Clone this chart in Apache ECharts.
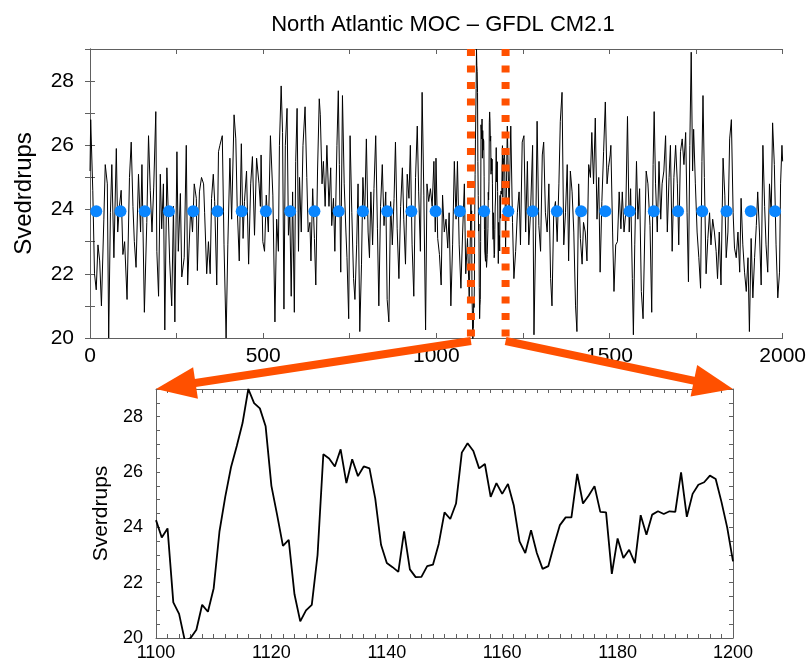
<!DOCTYPE html>
<html>
<head>
<meta charset="utf-8">
<title>North Atlantic MOC</title>
<script src="https://cdn.jsdelivr.net/npm/echarts@6/dist/echarts.min.js"></script>
<style>
  html, body { margin: 0; padding: 0; background: #fff; }
  #chart { width: 809px; height: 662px; }
</style>
</head>
<body>
<div id="chart"></div>
<script>
// 上图：全时段（读图估计，约每5年一个点）
const topYears = [0, 2, 8, 13, 18, 23, 28, 33, 40, 44, 50, 54, 59, 63, 69, 76, 80, 85, 90, 95,
  100, 107, 114, 119, 124, 128, 133, 140, 146, 150, 157, 164, 169, 174, 179, 184, 190, 193, 198,
  203, 207, 212, 216, 222, 226, 230, 236, 241, 245, 251, 255, 261, 265, 272, 278, 282, 286, 291, 296,
  301, 307, 310, 316, 322, 328, 331, 337, 342, 347, 351, 356, 360, 366, 371, 375, 382, 387, 393, 398,
  404, 409, 416, 421, 425, 431, 437, 442, 446, 452, 458, 464, 469, 475, 481, 488, 492, 494, 499,
  504, 509, 515, 521, 528, 534, 539, 544, 547, 552, 556, 560, 564, 569, 573, 577, 581, 585, 590, 594, 598,
  602, 605, 610, 615, 621, 626, 630, 635, 638, 643, 648, 652, 657, 662, 665, 670, 674, 679, 684, 690, 695, 698,
  703, 707, 713, 717, 720, 724, 729, 734, 739, 742, 747, 751, 756, 761, 765, 770, 774, 779, 784, 788, 793, 798,
  803, 807, 811, 816, 820, 825, 830, 834, 839, 844, 849, 854, 858, 863, 868, 873, 878, 882, 887, 892, 897,
  902, 906, 911, 916, 921, 925, 930, 935, 940, 945, 949, 954, 959, 964, 969, 973, 978, 983, 988, 993, 997, 999,
  1004, 1009, 1014, 1018, 1023, 1028, 1033, 1037, 1042, 1047, 1052, 1057, 1061, 1066, 1071, 1076, 1081, 1085, 1090, 1095,
  1205, 1210, 1215, 1220, 1224, 1229, 1234, 1239, 1243, 1248, 1253, 1258, 1263, 1267, 1272, 1278, 1282, 1287, 1291, 1296,
  1301, 1306, 1310, 1315, 1320, 1325, 1330, 1334, 1339, 1344, 1349, 1354, 1358, 1363, 1368, 1373, 1378, 1382, 1387, 1392, 1397,
  1402, 1406, 1411, 1416, 1421, 1425, 1430, 1435, 1440, 1445, 1449, 1454, 1459, 1464, 1469, 1473, 1478, 1483, 1488, 1493, 1497,
  1502, 1504, 1509, 1513, 1518, 1523, 1528, 1533, 1537, 1542, 1547, 1552, 1557, 1561, 1566, 1569, 1573, 1578, 1582, 1587, 1592, 1597,
  1602, 1606, 1611, 1617, 1622, 1626, 1629, 1633, 1638, 1643, 1648, 1652, 1657, 1662, 1667, 1672, 1676, 1681, 1686, 1691, 1696,
  1700, 1705, 1710, 1715, 1720, 1724, 1728, 1732, 1736, 1740, 1743, 1748, 1753, 1758, 1763, 1767, 1770, 1774, 1779, 1784, 1789, 1793, 1798,
  1803, 1808, 1812, 1817, 1822, 1828, 1833, 1837, 1842, 1847, 1852, 1857, 1861, 1866, 1871, 1876, 1880, 1885, 1890, 1895,
  1900, 1904, 1909, 1914, 1919, 1924, 1928, 1933, 1938, 1943, 1948, 1952, 1957, 1962, 1967, 1971, 1976, 1981, 1986, 1991, 1994, 1998, 2000];
const topValues = [25.2, 26.8, 24.6, 22.0, 21.5, 22.9, 22.4, 21.0, 23.7, 25.4, 24.8, 20.0, 23.9, 25.4, 22.5, 25.9, 23.3, 24.1, 24.6, 22.6,
  23.0, 21.2, 25.0, 26.1, 24.1, 23.0, 22.2, 25.1, 23.3, 25.4, 20.8, 23.6, 26.3, 24.6, 23.3, 24.7, 27.05, 22.7, 21.3,
  25.1, 23.4, 24.8, 20.25, 25.3, 23.9, 22.4, 21.0, 24.1, 20.5, 25.8, 22.7, 24.5, 21.9, 22.5, 26.0, 21.65, 22.8, 24.1, 23.3,
  24.8, 24.35, 22.1, 24.55, 25.0, 24.8, 23.9, 22.0, 23.0, 22.0, 24.35, 25.1, 24.25, 21.65, 25.8, 26.0, 26.3, 22.9, 20.0, 22.9,
  25.6, 23.7, 26.95, 26.2, 24.1, 22.4, 26.05, 23.1, 24.25, 25.2, 22.3, 24.8, 25.65, 23.2, 25.6, 24.8, 24.1, 25.7, 23.0,
  22.7, 24.45, 23.3, 26.3, 24.45, 20.5, 23.7, 22.7, 26.0, 27.85, 26.4, 20.9, 26.0, 27.15, 23.2, 23.9, 21.3, 24.55, 20.8, 25.5, 27.15,
  22.7, 25.0, 23.3, 26.0, 27.2, 25.0, 23.3, 23.6, 22.4, 24.65, 23.1, 21.65, 25.2, 27.45, 26.95, 24.8, 25.5, 24.1, 26.0, 24.1, 25.3, 23.5,
  24.35, 22.7, 26.0, 27.7, 25.4, 22.05, 27.55, 24.8, 23.3, 22.5, 20.6, 26.3, 23.9, 21.85, 21.2, 22.9, 24.8, 20.2, 22.3, 25.0, 23.7, 26.2,
  23.3, 22.5, 24.55, 22.9, 24.65, 26.3, 23.4, 21.0, 24.1, 25.4, 23.5, 24.55, 21.2, 20.5, 24.25, 22.9, 24.35, 26.1, 23.4, 21.85, 24.1,
  25.3, 23.7, 22.3, 25.1, 24.35, 26.0, 22.9, 21.3, 25.0, 26.6, 24.55, 22.7, 27.65, 24.45, 20.25, 24.8, 24.25, 24.65, 24.1, 25.5, 23.3, 25.6,
  23.1, 22.6, 21.65, 24.45, 23.3, 23.7, 22.8, 23.9, 21.0, 22.9, 25.5, 23.7, 25.5, 22.9, 21.55, 23.3, 24.8, 22.0, 23.1, 21.2,
  26.6, 23.9, 26.6, 23.6, 21.85, 22.7, 23.9, 24.55, 22.9, 26.1, 26.3, 23.3, 25.5, 22.9, 23.9, 26.0, 20.1, 23.3, 26.75, 23.5,
  22.7, 25.7, 26.1, 23.9, 23.3, 24.8, 21.85, 21.0, 23.9, 24.25, 23.0, 24.8, 26.75, 27.65, 22.9, 23.9, 25.4, 22.4, 25.2, 24.55, 23.3,
  21.0, 20.2, 24.8, 23.1, 22.3, 23.6, 23.3, 22.4, 25.4, 25.0, 26.4, 24.8, 26.85, 23.7, 25.0, 22.05, 24.25, 25.8, 27.35, 24.8, 25.3,
  25.7, 26.0, 23.3, 21.45, 22.9, 23.0, 24.55, 23.4, 24.55, 23.3, 23.9, 26.9, 23.3, 24.65, 21.85, 20.1, 22.9, 25.5, 23.7, 24.65, 21.45, 20.6,
  23.3, 25.2, 24.8, 23.5, 20.8, 25.4, 27.05, 24.8, 23.3, 25.5, 23.7, 24.8, 25.2, 26.3, 23.3, 25.0, 26.0, 22.7, 25.0, 26.0, 24.8,
  22.9, 25.8, 26.2, 25.4, 26.4, 23.9, 21.75, 26.0, 28.9, 25.2, 26.5, 24.8, 23.3, 22.5, 21.55, 25.5, 27.55, 25.0, 22.0, 23.1, 23.9, 22.9, 23.7,
  23.3, 22.7, 21.85, 23.3, 21.65, 25.6, 24.45, 22.5, 23.3, 26.2, 26.8, 23.9, 22.8, 22.5, 23.3, 22.05, 24.35, 22.9, 22.05, 21.45,
  22.5, 20.2, 23.1, 21.25, 22.5, 23.5, 24.55, 23.3, 21.65, 26.0, 24.1, 22.9, 22.05, 24.8, 23.9, 26.7, 25.4, 22.9, 21.25, 22.05, 24.8, 26.0, 25.5];

// 下图：1100-1200 逐年
const zoomStart = 1100;
const zoomEnd = 1200;
const zoomValues = [24.26, 23.63, 23.96, 21.29, 20.87, 19.9, 20.0, 20.3, 21.2, 20.95,
  21.8, 23.85, 25.1, 26.17, 26.94, 27.77, 29.0, 28.49, 28.3, 27.65,
  25.5, 24.44, 23.33, 23.55, 21.58, 20.6, 21.0, 21.2, 23.0, 26.64,
  26.49, 26.2, 26.82, 25.6, 26.46, 25.85, 26.2, 26.13, 25.04, 23.37,
  22.71, 22.56, 22.39, 23.85, 22.48, 22.2, 22.21, 22.6, 22.65, 23.4,
  24.54, 24.3, 24.86, 26.7, 27.04, 26.76, 26.13, 26.29, 25.1, 25.6,
  25.21, 25.57, 24.8, 23.49, 23.07, 23.9, 23.07, 22.5, 22.6, 23.37,
  24.08, 24.36, 24.36, 25.93, 24.86, 25.15, 25.49, 24.56, 24.54, 22.32,
  23.6, 22.89, 23.19, 22.71, 24.44, 23.73, 24.46, 24.58, 24.48, 24.58,
  24.56, 25.99, 24.38, 25.21, 25.54, 25.63, 25.87, 25.75, 24.92, 23.99,
  22.77];

// 蓝点
const dotYears = [18, 88, 158, 228, 298, 368, 438, 508, 578, 648, 718, 788, 858, 928, 998,
  1068, 1138, 1208, 1278, 1348, 1418, 1488, 1558, 1628, 1698, 1768, 1838, 1908, 1978];
const dotLevel = 23.95;

const yMin = 20;
const yMax = 29;

const orange = '#ff5000';
const frame = '#606060';
const font = 'Liberation Sans, Arial, Helvetica, sans-serif';

let zoomData = zoomValues.map((v, i) => [zoomStart + i, v]);
let topData = topYears.map((y, i) => [y, topValues[i]]).concat(zoomData);
topData.sort((a, b) => a[0] - b[0]);

function axisBase(extra) {
  return Object.assign({
    type: 'value',
    min: yMin,
    max: yMax,
    axisLine: { show: true, lineStyle: { color: frame, width: 1 } },
    axisTick: { show: true, inside: true, length: 5, lineStyle: { color: frame } },
    splitLine: { show: false },
    axisLabel: { show: false }
  }, extra);
}

let myChart = echarts.init(document.getElementById('chart'), null, { renderer: 'canvas' });

myChart.setOption({
  animation: false,
  backgroundColor: '#fff',
  title: {
    text: 'North Atlantic MOC \u2013 GFDL CM2.1',
    left: 438,
    top: 9,
    textAlign: 'center',
    textStyle: { fontFamily: font, fontSize: 22, fontWeight: 'normal', color: '#000' }
  },
  grid: [
    { left: 90, top: 49, width: 697, height: 289 },
    { left: 156, top: 389, width: 577, height: 252 }
  ],
  xAxis: [
    axisBase({
      gridIndex: 0, position: 'bottom', min: 0, max: 2000, interval: 250,
      axisLabel: {
        show: true, margin: 8, color: '#000', fontFamily: font, fontSize: 21,
        formatter: v => (v % 500 === 0 ? v : '')
      }
    }),
    axisBase({ gridIndex: 0, position: 'top', min: 0, max: 2000, interval: 250 }),
    axisBase({
      gridIndex: 1, position: 'bottom', min: zoomStart, max: zoomEnd, interval: 2,
      axisTick: { show: true, inside: true, length: 4, lineStyle: { color: frame } },
      axisLabel: {
        show: true, margin: 6, color: '#000', fontFamily: font, fontSize: 18,
        formatter: v => (v % 20 === 0 ? v : '')
      }
    }),
    axisBase({
      gridIndex: 1, position: 'top', min: zoomStart, max: zoomEnd, interval: 2,
      axisTick: { show: true, inside: true, length: 4, lineStyle: { color: frame } }
    })
  ],
  yAxis: [
    axisBase({
      gridIndex: 0, position: 'left', interval: 1,
      name: 'Svedrdrups', nameLocation: 'middle', nameGap: 54, nameRotate: 90,
      nameTextStyle: { fontFamily: font, fontSize: 24, color: '#000' },
      axisLabel: {
        show: true, margin: 16, color: '#000', fontFamily: font, fontSize: 21,
        formatter: v => (v % 2 === 0 ? v : '')
      }
    }),
    axisBase({ gridIndex: 0, position: 'right', interval: 1 }),
    axisBase({
      gridIndex: 1, position: 'left', interval: 0.5,
      axisTick: { show: true, inside: true, length: 4, lineStyle: { color: frame } },
      name: 'Sverdrups', nameLocation: 'middle', nameGap: 44, nameRotate: 90,
      nameTextStyle: { fontFamily: font, fontSize: 21, color: '#000' },
      axisLabel: {
        show: true, margin: 13, color: '#000', fontFamily: font, fontSize: 18,
        formatter: v => (v % 2 === 0 ? v : '')
      }
    }),
    axisBase({
      gridIndex: 1, position: 'right', interval: 0.5,
      axisTick: { show: true, inside: true, length: 4, lineStyle: { color: frame } }
    })
  ],
  series: [
    {
      name: 'moc',
      type: 'line',
      xAxisIndex: 0,
      yAxisIndex: 0,
      data: topData,
      showSymbol: false,
      sampling: null,
      lineStyle: { color: '#000', width: 1 },
      z: 2
    },
    // 虚线标出放大区间
    {
      type: 'line',
      xAxisIndex: 0,
      yAxisIndex: 0,
      data: [[zoomStart, yMax], [zoomStart, yMin]],
      showSymbol: false,
      lineStyle: { color: orange, width: 8, type: [7, 9.5], cap: 'butt' },
      z: 3
    },
    {
      type: 'line',
      xAxisIndex: 0,
      yAxisIndex: 0,
      data: [[zoomEnd, yMax], [zoomEnd, yMin]],
      showSymbol: false,
      lineStyle: { color: orange, width: 8, type: [7, 9.5], cap: 'butt' },
      z: 3
    },
    {
      name: 'dots',
      type: 'scatter',
      xAxisIndex: 0,
      yAxisIndex: 0,
      data: dotYears.map(y => [y, dotLevel]),
      symbolSize: 12,
      itemStyle: { color: '#0a86ff', opacity: 1 },
      z: 4
    },
    {
      name: 'zoom',
      type: 'line',
      xAxisIndex: 2,
      yAxisIndex: 2,
      data: zoomData,
      showSymbol: false,
      lineStyle: { color: '#000', width: 1.8 },
      z: 2
    }
  ]
});

// 箭头：从上图虚线底端指向下图上角
function arrow(from, to) {
  let dx = to[0] - from[0], dy = to[1] - from[1];
  let len = Math.sqrt(dx * dx + dy * dy);
  let ux = dx / len, uy = dy / len;
  let headLen = 40, headHalf = 16;
  let bx = to[0] - ux * headLen, by = to[1] - uy * headLen;
  return [
    {
      type: 'line',
      shape: { x1: from[0], y1: from[1], x2: bx + ux * 2, y2: by + uy * 2 },
      style: { stroke: orange, lineWidth: 8, lineCap: 'butt' },
      z: 100
    },
    {
      type: 'polygon',
      shape: { points: [[to[0], to[1]], [bx - uy * headHalf, by + ux * headHalf], [bx + uy * headHalf, by - ux * headHalf]] },
      style: { fill: orange },
      z: 100
    }
  ];
}

let p0 = myChart.convertToPixel({ xAxisIndex: 0, yAxisIndex: 0 }, [zoomStart, yMin]);
let p1 = myChart.convertToPixel({ xAxisIndex: 0, yAxisIndex: 0 }, [zoomEnd, yMin]);
let q0 = myChart.convertToPixel({ xAxisIndex: 2, yAxisIndex: 2 }, [zoomStart, yMax]);
let q1 = myChart.convertToPixel({ xAxisIndex: 2, yAxisIndex: 2 }, [zoomEnd, yMax]);

myChart.setOption({
  graphic: arrow([p0[0], p0[1] + 3], q0).concat(arrow([p1[0], p1[1] + 3], q1))
});
</script>
</body>
</html>
